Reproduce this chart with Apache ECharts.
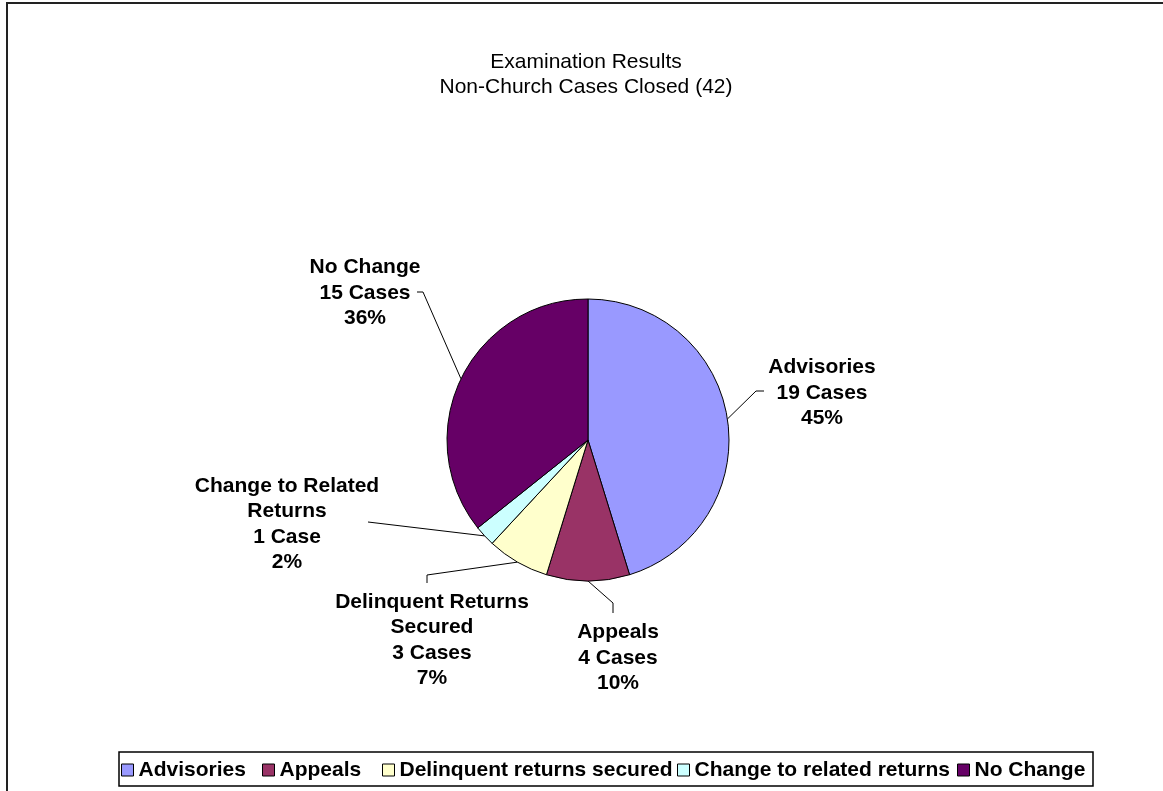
<!DOCTYPE html>
<html>
<head>
<meta charset="utf-8">
<script src="https://cdn.jsdelivr.net/npm/echarts@6/dist/echarts.min.js"></script>
<style>
html,body{margin:0;padding:0;background:#fff;}
#chart{width:1163px;height:791px;}
</style>
</head>
<body>
<div id="chart"></div>
<script>
// ---- data ----
const categories = ['Advisories', 'Appeals', 'Delinquent returns secured', 'Change to related returns', 'No Change'];
const cases = [19, 4, 3, 1, 15];
const labelNames = ['Advisories', 'Appeals', 'Delinquent Returns\nSecured', 'Change to Related\nReturns', 'No Change'];
const titleLines = ['Examination Results', 'Non-Church Cases Closed (42)'];

// ---- styles / layout ----
const colors = ['#9999FF', '#993366', '#FFFFCC', '#CCFFFF', '#660066'];
const FONT = '"Liberation Sans", Arial, sans-serif';
const pieCenter = [588, 440];
const pieRadius = 141;
const labelCenters = [[822, 393], [618, 658], [432, 640], [287, 524], [365, 293]];
const leaderBends = [
  [[756, 391], [764, 391]],
  [[613, 603], [613, 613]],
  [[427, 575], [427, 583]],
  [[368, 522]],
  [[423, 292], [417, 292]]
];
const legendLefts = [121, 262, 382, 677, 957];

const total = cases.reduce((a, b) => a + b, 0);
function edgePoint(i) {
  let before = 0;
  for (let k = 0; k < i; k++) before += cases[k];
  const frac = (before + cases[i] / 2) / total;
  const ang = frac * 2 * Math.PI;
  return [pieCenter[0] + pieRadius * Math.sin(ang), pieCenter[1] - pieRadius * Math.cos(ang)];
}

const chart = echarts.init(document.getElementById('chart'), null, {renderer: 'canvas'});

const legends = categories.map((name, i) => ({
  data: [name],
  left: legendLefts[i],
  top: 758,
  padding: 0,
  itemWidth: 12,
  itemHeight: 12,
  itemGap: 0,
  icon: 'rect',
  selectedMode: false,
  itemStyle: {borderColor: '#000', borderWidth: 1},
  textStyle: {fontFamily: FONT, fontWeight: 'bold', fontSize: 21, color: '#000', lineHeight: 24, padding: [0, 0, 0, 0]}
}));

const option = {
  animation: false,
  backgroundColor: '#fff',
  color: colors,
  title: {
    text: titleLines.join('\n'),
    left: 586,
    textAlign: 'center',
    top: 50,
    padding: 0,
    textStyle: {fontFamily: FONT, fontWeight: 'normal', fontSize: 21, lineHeight: 25, color: '#000'}
  },
  legend: legends,
  graphic: [
    {type: 'rect', z: -10, shape: {x: 7, y: 3, width: 1300, height: 900}, style: {fill: 'none', stroke: '#222', lineWidth: 2}},
    {type: 'rect', z: -5, shape: {x: 119, y: 752, width: 974, height: 34}, style: {fill: 'none', stroke: '#000', lineWidth: 1.5}}
  ],
  series: [{
    type: 'pie',
    center: pieCenter,
    radius: pieRadius,
    startAngle: 90,
    clockwise: true,
    avoidLabelOverlap: false,
    emphasis: {disabled: true},
    itemStyle: {borderColor: '#000', borderWidth: 1},
    label: {
      show: true,
      position: 'outside',
      fontFamily: FONT,
      fontWeight: 'bold',
      fontSize: 21,
      lineHeight: 25.5,
      color: '#000',
      align: 'center',
      formatter: function (p) {
        const i = p.dataIndex;
        const c = cases[i];
        const pct = Math.round(c / total * 100);
        return labelNames[i] + '\n' + c + (c === 1 ? ' Case' : ' Cases') + '\n' + pct + '%';
      }
    },
    labelLine: {show: true, length: 10, length2: 10, lineStyle: {color: '#000', width: 1}},
    labelLayout: function (params) {
      const i = params.dataIndex;
      const p0 = edgePoint(i);
      return {
        x: labelCenters[i][0],
        y: labelCenters[i][1],
        align: 'center',
        verticalAlign: 'middle',
        labelLinePoints: [p0].concat(leaderBends[i])
      };
    },
    data: categories.map((name, i) => ({name: name, value: cases[i]}))
  }]
};
chart.setOption(option);
</script>
</body>
</html>
